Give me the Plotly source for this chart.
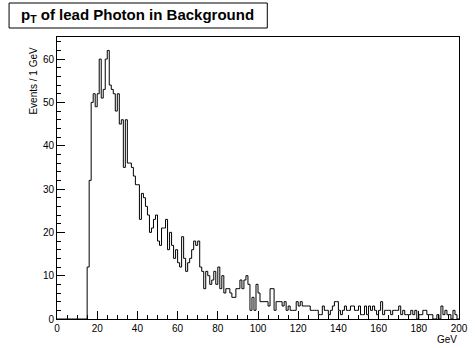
import numpy as np
import plotly.graph_objects as go

# Histogram: leading photon pT in background, 1 GeV bins from 0 to 200 GeV
bin_low = 0.0
bin_width = 1.0
counts = [
    0, 0, 0, 0, 0, 0, 0, 0, 0, 0,            # 0-9
    0, 0, 0, 0, 0, 12, 32, 50, 52, 49,       # 10-19
    52, 60, 51, 53, 60, 62, 54, 53, 52, 48,  # 20-29
    52, 45, 46, 35, 46, 36, 36, 35, 33, 31,  # 30-39
    31, 23, 29, 28, 26, 24, 20, 21, 23, 24,  # 40-49
    18, 17, 21, 21, 23, 16, 20, 17, 14, 16,  # 50-59
    13, 12, 19, 14, 11, 13, 14, 16, 18, 17,  # 60-69
    18, 12, 11, 7, 11, 10, 8, 9, 11, 8,      # 70-79
    12, 7, 10, 6, 7, 7, 6, 5, 5, 7,          # 80-89
    7, 9, 7, 9, 10, 8, 2, 5, 2, 8,           # 90-99
    6, 4, 4, 4, 4, 3, 7, 7, 2, 4,            # 100-109
    4, 4, 3, 4, 2, 3, 2, 2, 2, 4,            # 110-119
    3, 4, 3, 3, 3, 3, 2, 2, 2, 2,            # 120-129
    1, 1, 3, 2, 2, 1, 2, 3, 4, 4,            # 130-139
    2, 1, 2, 3, 2, 2, 3, 3, 2, 2,            # 140-149
    3, 1, 1, 3, 1, 3, 2, 3, 2, 1,            # 150-159
    2, 4, 1, 2, 2, 2, 1, 2, 2, 2,            # 160-169
    3, 1, 2, 1, 1, 1, 2, 1, 2, 0,            # 170-179
    1, 1, 2, 2, 1, 1, 1, 0, 0, 1,            # 180-189
    0, 3, 1, 2, 1, 1, 0, 2, 1, 0,            # 190-199
]
title_text = "<b>p<sub>T</sub> of lead Photon in Background</b>"
x_title = "GeV"
y_title = "Events / 1 GeV"

counts = np.array(counts, dtype=float)
edges = bin_low + bin_width * np.arange(len(counts) + 1)
# step outline: each bin's level held across its width
step_x = edges
step_y = np.append(counts, counts[-1])

W, H = 475, 348
ML, MR, MT, MB = 57, 7, 37, 29
PW, PH = W - ML - MR, H - MT - MB


def px_x(p):
    return (p - ML) / PW


def px_y(p):
    return (H - MB - p) / PH


fig = go.Figure()
fig.add_trace(go.Scatter(
    x=step_x, y=step_y, mode="lines",
    line=dict(shape="hv", color="black", width=1),
    hoverinfo="skip", showlegend=False,
))

font = "Liberation Sans, Arial, Helvetica, sans-serif"
ymax = counts.max() * 1.05

axis_common = dict(
    showgrid=False, zeroline=False,
    showline=True, linecolor="black", linewidth=1, mirror=True,
    ticks="inside", tickcolor="black", tickwidth=1, ticklen=8,
    tickfont=dict(family=font, size=10, color="black"),
    ticklabeloverflow="allow",
)
fig.update_xaxes(
    range=[edges[0], edges[-1]], tick0=0, dtick=20,
    minor=dict(ticks="inside", dtick=5, ticklen=4, tickcolor="black"),
    **axis_common,
)
fig.update_yaxes(
    range=[0, ymax], tick0=0, dtick=10,
    minor=dict(ticks="inside", dtick=2, ticklen=4, tickcolor="black"),
    **axis_common,
)

# title box
fig.add_shape(type="rect", xref="paper", yref="paper",
              x0=px_x(8), x1=px_x(272), y0=px_y(28), y1=px_y(3),
              line=dict(color="black", width=1), fillcolor="white", layer="above")
fig.add_annotation(text=title_text, xref="paper", yref="paper",
                   x=px_x(139), y=px_y(16), xanchor="center", yanchor="middle",
                   showarrow=False, font=dict(family=font, size=15, color="black"))

# axis titles, aligned to the axis ends
fig.add_annotation(text=x_title, xref="paper", yref="paper",
                   x=px_x(468), y=px_y(339), xanchor="right", yanchor="middle",
                   showarrow=False, font=dict(family=font, size=10, color="black"))
fig.add_annotation(text=y_title, xref="paper", yref="paper", textangle=-90,
                   x=px_x(32), y=px_y(45), xanchor="center", yanchor="top",
                   showarrow=False, font=dict(family=font, size=10, color="black"))

fig.update_layout(
    width=W, height=H,
    margin=dict(l=ML, r=MR, t=MT, b=MB, pad=0),
    paper_bgcolor="white", plot_bgcolor="white",
    showlegend=False,
)

fig.write_html("out.html", config={"displayModeBar": False})
